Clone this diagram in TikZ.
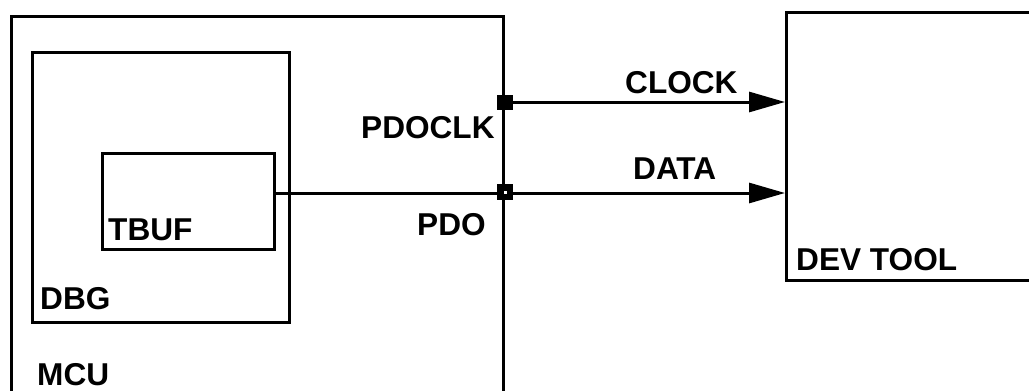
\documentclass[tikz,border=0pt]{standalone}
\usepackage{fontspec}
\setmainfont{Liberation Sans}
\usetikzlibrary{arrows.meta}
\tikzset{
  blk/.style={draw, line width=3pt, rectangle, inner sep=0pt, anchor=north west},
  lbl/.style={inner sep=0pt, anchor=base west, font=\fontsize{31.6}{32}\selectfont\bfseries},
  pin/.style={fill=black, draw=none, inner sep=0pt, minimum width=16pt, minimum height=16pt},
  sig/.style={line width=3pt, -{Triangle[length=36pt,width=20pt]}},
}
\begin{document}
\begin{tikzpicture}[x=1pt,y=-1pt]
\useasboundingbox (0,0) rectangle (1029,391);
\clip (0,0) rectangle (1029,391);
\fill[white] (0,0) rectangle (1029,391);
% boxes
\node[blk, minimum width=492pt, minimum height=405pt] (mcu) at (10,15) {};
\node[blk, minimum width=257pt, minimum height=270pt] (dbg) at (31,51) {};
\node[blk, line width=2.7pt, minimum width=172pt, minimum height=96pt] (tbuf) at (101,152) {};
\node[blk, minimum width=280pt, minimum height=268pt] (dev) at (785,11) {};
% pins
\node[pin, minimum height=15pt] (pclk) at (505,102) {};
\node[pin] (pdo) at (505,192) {};
% connectors
\draw[sig] (pclk.center) -- (pclk.center -| dev.west);
\coordinate (tstart) at (275,193);
\draw[sig] (tstart) -- (tstart -| dev.west);
\fill[white] (503.5,190.5) rectangle (506.5,193.5);
% labels
\node[lbl] (lclock) at (625,93) {CLOCK};
\node[lbl] (ldata) at (633,179) {DATA};
\node[lbl] (lpdoclk) at (361,138) {PDOCLK};
\node[lbl] (lpdo) at (417,235) {PDO};
\node[lbl] (ltbuf) at (108,240) {TBUF};
\node[lbl] (ldbg) at (40,309) {DBG};
\node[lbl] (lmcu) at (37,385) {MCU};
\node[lbl] (ldev) at (796,270) {DEV TOOL};
\end{tikzpicture}
\end{document}
